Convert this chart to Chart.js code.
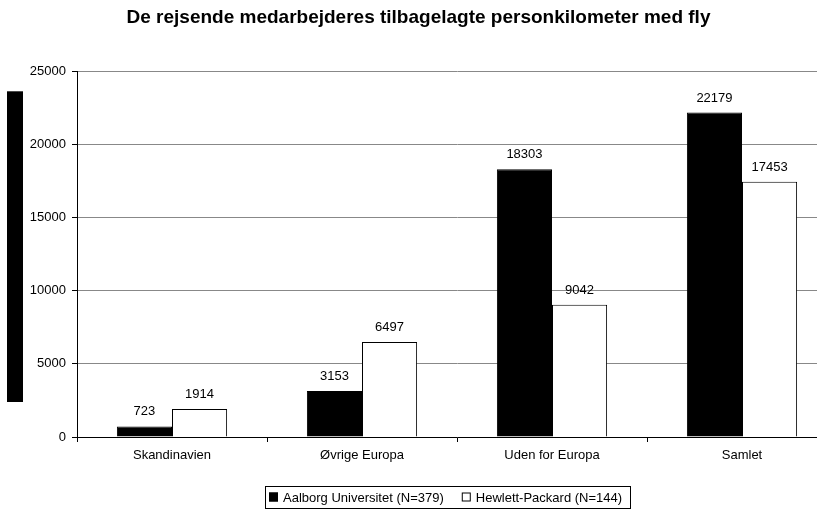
<!DOCTYPE html>
<html>
<head>
<meta charset="utf-8">
<script src="https://cdn.jsdelivr.net/npm/chart.js@4/dist/chart.umd.min.js"></script>
<style>
  html, body { margin: 0; padding: 0; background: #fff; }
  /* the plot runs past the right edge in the original, so the canvas is a bit wider and clipped */
  #wrap { width: 817px; height: 512px; overflow: hidden; }
</style>
</head>
<body>
<div id="wrap"><canvas id="barChart" width="837" height="512"></canvas></div>
<script>
const categories = ["Skandinavien", "Øvrige Europa", "Uden for Europa", "Samlet"];
const aauValues = [723, 3153, 18303, 22179];
const hpValues = [1914, 6497, 9042, 17453];
const seriesNames = ["Aalborg Universitet (N=379)", "Hewlett-Packard (N=144)"];
const yTicks = [0, 5000, 10000, 15000, 20000, 25000];

const FONT = "Arial, 'Liberation Sans', sans-serif";
Chart.defaults.font.family = FONT;
Chart.defaults.color = "#000";

// value labels above each bar
const valueLabels = {
  id: "valueLabels",
  afterDatasetsDraw(chart) {
    const ctx = chart.ctx;
    ctx.save();
    ctx.font = "13px " + FONT;
    ctx.fillStyle = "#000";
    ctx.textAlign = "center";
    ctx.textBaseline = "alphabetic";
    chart.data.datasets.forEach((ds, i) => {
      chart.getDatasetMeta(i).data.forEach((bar, j) => {
        ctx.fillText(String(ds.data[j]), bar.x, bar.y - 11);
      });
    });
    ctx.restore();
  }
};

// black axis-title block at the left + framed legend below the axis
const decorations = {
  id: "decorations",
  afterDraw(chart) {
    const ctx = chart.ctx;
    const area = chart.chartArea;
    ctx.save();
    ctx.fillStyle = "#000";
    ctx.fillRect(7, area.top + 20, 16, area.bottom - area.top - 55);

    // legend
    ctx.font = "13px " + FONT;
    ctx.textBaseline = "middle";
    ctx.textAlign = "left";
    const boxLeft = 265, boxTop = 486, boxH = 22;
    const midY = boxTop + boxH / 2;
    let x = boxLeft + 4;
    chart.data.datasets.forEach((ds, i) => {
      ctx.fillStyle = ds.backgroundColor;
      ctx.fillRect(x, midY - 4.5, 9, 9);
      ctx.strokeStyle = ds.borderColor;
      ctx.lineWidth = 1;
      ctx.strokeRect(x + 0.5, midY - 4, 8, 8);
      x += 14;
      ctx.fillStyle = "#000";
      ctx.fillText(ds.label, x, midY + 1);
      x += ctx.measureText(ds.label).width;
      if (i < chart.data.datasets.length - 1) x += 18;
    });
    x += 8;
    ctx.strokeStyle = "#000";
    ctx.strokeRect(boxLeft + 0.5, boxTop + 0.5, Math.round(x - boxLeft), boxH);
    ctx.restore();
  }
};

new Chart(document.getElementById("barChart"), {
  type: "bar",
  data: {
    labels: categories,
    datasets: [
      {
        label: seriesNames[0],
        data: aauValues,
        backgroundColor: "#000",
        borderColor: "#000",
        borderWidth: 1
      },
      {
        label: seriesNames[1],
        data: hpValues,
        backgroundColor: "#fff",
        borderColor: "#000",
        borderWidth: 1
      }
    ]
  },
  options: {
    responsive: false,
    animation: false,
    layout: { padding: { left: 0, right: 0, top: 0, bottom: 35 } },
    datasets: { bar: { categoryPercentage: 0.58, barPercentage: 1 } },
    plugins: {
      title: {
        display: true,
        text: "De rejsende medarbejderes tilbagelagte personkilometer med fly",
        font: { size: 19, weight: "bold" },
        color: "#000",
        padding: { top: 6, bottom: 42.5 }
      },
      legend: { display: false },
      tooltip: { enabled: false }
    },
    scales: {
      x: {
        grid: { display: true, drawOnChartArea: false, offset: true, tickLength: 5, color: "#000" },
        border: { color: "#000" },
        ticks: { font: { size: 13 }, color: "#000", padding: 6 },
        afterFit(scale) { scale.height = 40; }
      },
      y: {
        min: 0,
        max: 25000,
        afterBuildTicks(scale) { scale.ticks = yTicks.map(v => ({ value: v })); },
        grid: { color: "#888", tickColor: "#000", tickLength: 5 },
        border: { color: "#000" },
        ticks: { font: { size: 13 }, color: "#000", padding: 6, callback: v => String(v) },
        afterFit(scale) { scale.width = 77; }
      }
    }
  },
  plugins: [valueLabels, decorations]
});
</script>
</body>
</html>
